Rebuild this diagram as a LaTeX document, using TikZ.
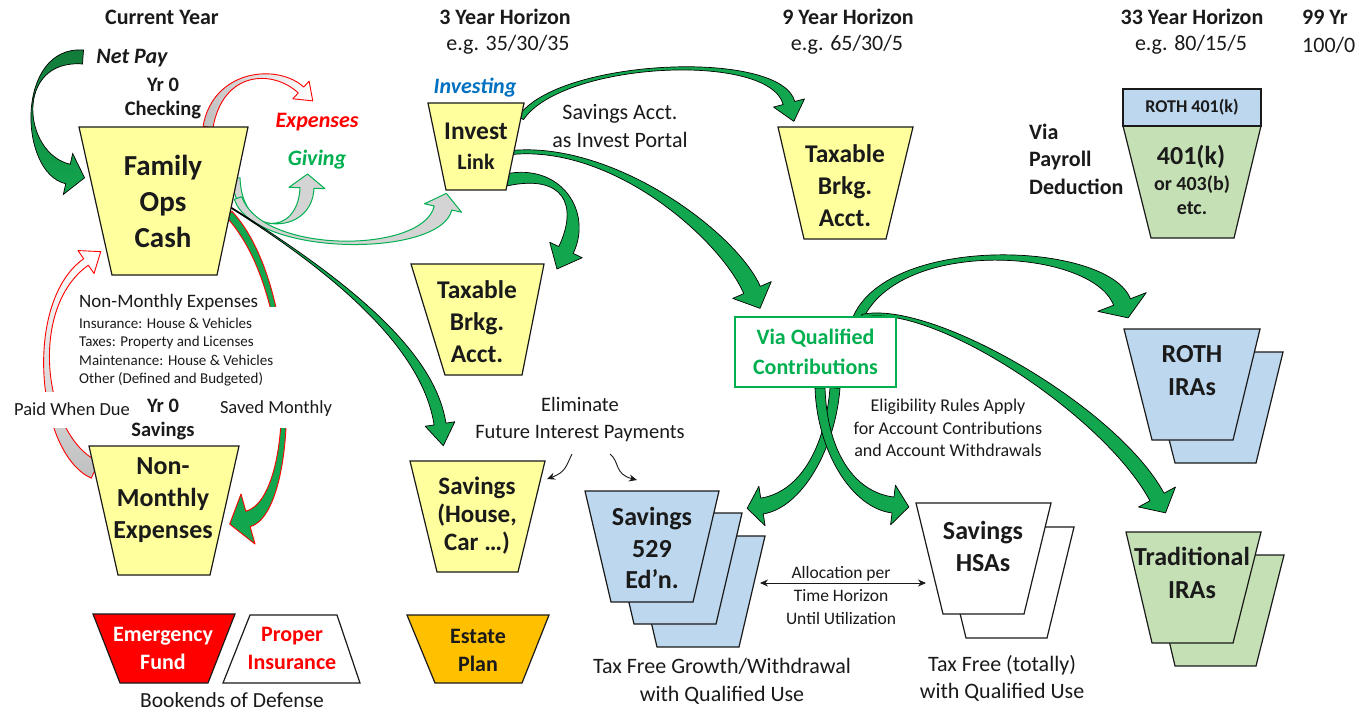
\documentclass[tikz,border=0pt]{standalone}
\usepackage{fontspec}
\setmainfont{Carlito}
\usetikzlibrary{calc,arrows.meta}

\definecolor{yel}{HTML}{FFFF9E}
\definecolor{lblue}{HTML}{BDD7EE}
\definecolor{lgreen}{HTML}{C5E0B4}
\definecolor{orng}{HTML}{FFC000}
\definecolor{agreen}{HTML}{12A64E}
\definecolor{dgreen}{HTML}{137A3A}
\definecolor{tgreen}{HTML}{00B050}
\definecolor{tblue}{HTML}{0070C0}
\definecolor{tred}{HTML}{FF0000}
\definecolor{ink}{HTML}{1A1A1A}

% font size / baseline skip in pt
\newcommand\fz[2]{\fontsize{#1pt}{#2pt}\selectfont}

% bucket: top-left x, top-right x, top y, bottom-left x, bottom-right x, bottom y, style
\newcommand\bucketshape[7]{%
  \path[bucket,#7] (#1,#3) -- (#2,#3) -- (#5,#6) -- (#4,#6) -- cycle;}

% tapered curved block arrow along a Bezier centre line
% #1 style, #2 start, #3 control 1, #4 control 2, #5 head base,
% #6 half width at start, #7 half width at head, #8 head half width, #9 head length
\newcommand\tarrow[9]{%
  \coordinate (tS) at (#2); \coordinate (tA) at (#3);
  \coordinate (tB) at (#4); \coordinate (tE) at (#5);
  \coordinate (tSL) at ($(tS)!#6pt!90:(tA)$);
  \coordinate (tSR) at ($(tS)!#6pt!-90:(tA)$);
  \coordinate (tAL) at ($(tA)+(tSL)-(tS)$);
  \coordinate (tAR) at ($(tA)+(tSR)-(tS)$);
  \coordinate (tEL) at ($(tE)!#7pt!-90:(tB)$);
  \coordinate (tER) at ($(tE)!#7pt!90:(tB)$);
  \coordinate (tBL) at ($(tB)+(tEL)-(tE)$);
  \coordinate (tBR) at ($(tB)+(tER)-(tE)$);
  \coordinate (tHL) at ($(tE)!#8pt!-90:(tB)$);
  \coordinate (tHR) at ($(tE)!#8pt!90:(tB)$);
  \coordinate (tT) at ($(tE)!-#9pt!(tB)$);
  \path[#1] (tSL) .. controls (tAL) and (tBL) .. (tEL) -- (tHL) -- (tT)
    -- (tHR) -- (tER) .. controls (tBR) and (tAR) .. (tSR) -- cycle;}

\tikzset{
  bucket/.style={draw=ink, line width=1.2pt, line join=miter},
  lbl/.style={inner sep=0pt, align=center, text=ink},
  greenarrow/.style={draw=black, line width=0.7pt, fill=agreen, line join=round},
  grayarrow/.style={draw=tgreen, line width=1pt, fill=black!17, line join=round},
  redarrow/.style={draw=tred, line width=0.9pt, line join=round},
  thin/.style={draw=ink, line width=0.9pt, -{Stealth[length=8pt,width=7pt]}},
}

\begin{document}
\begin{tikzpicture}[x=1pt,y=-1pt]
\useasboundingbox (0,0) rectangle (1357,713);
\fill[white] (0,0) rectangle (1357,713);

% ---------- block arrows ----------
% net pay into checking
\tarrow{draw=black, line width=0.7pt, top color=dgreen, bottom color=agreen}{83,57}{15,52}{20,163}{68,174}{7}{10}{21}{17}
% expenses and giving out of checking
\tarrow{redarrow, left color=black!25, right color=white}{208,127}{218,70}{275,66}{301,90}{5}{4}{12}{16}
\tarrow{grayarrow}{236,178}{238,236}{305,238}{307,188}{4}{7}{18}{14}
% checking to invest link
\tarrow{grayarrow}{238,198}{258,256}{432,256}{443,208}{4}{9}{19}{15}
% checking to house/car savings
\tarrow{greenarrow}{230,207}{330,270}{428,345}{440,424}{0.5}{6}{15}{22}
% saved monthly / paid when due loop
\tarrow{redarrow, fill=agreen}{229,214}{300,290}{298,505}{248,519}{4}{8}{26}{19}
\tarrow{redarrow, bottom color=black!25, top color=white}{95,470}{40,445}{25,305}{86,262}{9}{4}{14}{18}
% invest link outflows
\tarrow{greenarrow}{506,180}{562,168}{586,208}{566,250}{6}{8}{18}{21}
\tarrow{greenarrow}{521,118}{560,60}{775,50}{789,103}{3}{6}{16}{19}
\tarrow{greenarrow}{507,153}{610,140}{728,235}{752,290}{2}{9}{21}{20}
% qualified contributions outflows
\tarrow{greenarrow}{858,318}{895,235}{1100,245}{1122,302}{5}{9}{26}{17}
\tarrow{greenarrow}{862,316}{930,300}{1110,410}{1157,497}{1.5}{8}{21}{18}
\tarrow{greenarrow}{835,388}{830,450}{800,500}{762,506}{5}{8}{20}{15}
\tarrow{greenarrow}{820,388}{822,450}{852,500}{893,505}{5}{8}{20}{16}

% text panels sit on a white ground over the loop arrows
\fill[white] (70,307) rectangle (293,396);
\fill[white] (8,392) rectangle (300,428);

% ---------- buckets ----------
\bucketshape{79}{248}{127}{112}{217}{275}{fill=yel}
\bucketshape{89}{239}{446}{118}{210}{575}{fill=yel}
\bucketshape{93}{235}{614}{120}{208}{683}{fill=tred}
\bucketshape{250}{337}{615}{223}{360}{683}{fill=white}
\bucketshape{428}{524}{103}{446}{506}{190}{fill=yel}
\bucketshape{411}{544}{264}{445}{522}{375}{fill=yel}
\bucketshape{410}{545}{461}{437}{518}{572}{fill=yel}
\bucketshape{407}{549}{615}{435}{522}{683}{fill=orng}
\bucketshape{778}{913}{127}{804}{886}{239}{fill=yel}
% 529 stack
\begin{scope}[shift={(46,45)}]\bucketshape{585}{719}{491}{611}{693}{602}{fill=lblue}\end{scope}
\begin{scope}[shift={(23,22)}]\bucketshape{585}{719}{491}{611}{693}{602}{fill=lblue}\end{scope}
\bucketshape{585}{719}{491}{611}{693}{602}{fill=lblue}
% HSA stack
\begin{scope}[shift={(23,24)}]\bucketshape{916}{1051}{503}{943}{1024}{614}{fill=white}\end{scope}
\bucketshape{916}{1051}{503}{943}{1024}{614}{fill=white}
% 401(k)
\bucketshape{1123}{1261}{126}{1151}{1234}{238}{fill=lgreen}
\path[bucket, fill=lblue] (1123,89) rectangle (1261,126);
% ROTH IRAs
\begin{scope}[shift={(23,23)}]\bucketshape{1124}{1260}{329}{1152}{1233}{440}{fill=lblue}\end{scope}
\bucketshape{1124}{1260}{329}{1152}{1233}{440}{fill=lblue}
% Traditional IRAs
\begin{scope}[shift={(23,23)}]\bucketshape{1126}{1261}{532}{1152}{1233}{643}{fill=lgreen}\end{scope}
\bucketshape{1126}{1261}{532}{1152}{1233}{643}{fill=lgreen}

% qualified contributions box
\node[draw=tgreen, line width=1.2pt, fill=white, minimum width=161pt, minimum height=70pt,
      inner sep=0pt, text=tgreen, align=center, font=\fz{22}{30}\bfseries] (viaq) at (815.5,352)
      {Via Qualified\\Contributions};

% ---------- headings ----------
\node[lbl, font=\fz{22}{26}\bfseries] (cy) at (162,17) {Current Year};
\node[lbl, font=\fz{22}{26}\bfseries] (h3) at (505,17) {3 Year Horizon};
\node[lbl, font=\fz{22}{26}] (e3) at (508,45) {e.g. 35/30/35};
\node[lbl, font=\fz{22}{26}\bfseries] (h9) at (848,17) {9 Year Horizon};
\node[lbl, font=\fz{22}{26}] (e9) at (847,45) {e.g. 65/30/5};
\node[lbl, font=\fz{22}{26}\bfseries] (h33) at (1192,17) {33 Year Horizon};
\node[lbl, font=\fz{22}{26}] (e33) at (1191,45) {e.g. 80/15/5};
\node[lbl, anchor=west, font=\fz{22}{26}\bfseries] (h99) at (1302,17) {99 Yr};
\node[lbl, anchor=west, font=\fz{22}{26}] (e99) at (1302,45) {100/0};

% ---------- current year column ----------
\node[lbl, font=\fz{22}{26}\bfseries\itshape] (netpay) at (132,58) {Net Pay};
\node[lbl, font=\fz{20.5}{24}\bfseries] (yr0c) at (163,99) {Yr 0\\Checking};
\node[lbl, text=tred, font=\fz{22}{26}\bfseries\itshape] (expn) at (317,122) {Expenses};
\node[lbl, text=tgreen, font=\fz{22}{26}\bfseries\itshape] (givn) at (317,160) {Giving};
\node[lbl, font=\fz{29}{36}\bfseries] (fam) at (163,201) {Family\\Ops\\Cash};
\node[lbl, anchor=west, font=\fz{19}{22}] (nmhead) at (79,302) {Non-Monthly Expenses};
\node[lbl, anchor=west, align=left, font=\fz{15}{18.3}] (nmlist) at (79,352)
  {Insurance: House \& Vehicles\\Taxes: Property and Licenses\\Maintenance: House \& Vehicles\\Other (Defined and Budgeted)};
\node[lbl, font=\fz{18.5}{22}] (paid) at (72,409) {Paid When Due};
\node[lbl, font=\fz{20.5}{24}\bfseries] (yr0s) at (163,420) {Yr 0\\Savings};
\node[lbl, font=\fz{18.5}{22}] (saved) at (276,409) {Saved Monthly};
\node[lbl, font=\fz{26}{32}\bfseries] (nme) at (163,500) {Non-\\Monthly\\Expenses};
\node[lbl, text=white, font=\fz{22}{28}\bfseries] (emerg) at (163,648) {Emergency\\Fund};
\node[lbl, text=tred, font=\fz{22}{28}\bfseries] (proper) at (292,648) {Proper\\Insurance};
\node[lbl, font=\fz{21.5}{26}] (bookends) at (232,700) {Bookends of Defense};

% ---------- 3 year column ----------
\node[lbl, text=tblue, font=\fz{22}{26}\bfseries\itshape] (investing) at (475,88) {Investing};
\node[lbl, font=\fz{25.5}{30}\bfseries] (invest) at (476,131) {Invest};
\node[lbl, font=\fz{22}{26}\bfseries] (link) at (476,162) {Link};
\node[lbl, font=\fz{22}{28}] (portal) at (620,126) {Savings Acct.\\as Invest Portal};
\node[lbl, font=\fz{25.5}{32}\bfseries] (taxl) at (477,322) {Taxable\\Brkg.\\Acct.};
\node[lbl, font=\fz{20.5}{27}] (elim) at (580,420) {Eliminate\\Future Interest Payments};
\node[lbl, font=\fz{25}{28}\bfseries] (house) at (477,516) {Savings\\(House,\\Car …)};
\node[lbl, font=\fz{22}{28}\bfseries] (estate) at (478,650) {Estate\\Plan};
\node[lbl, font=\fz{26}{31.5}\bfseries] (s529) at (652,548) {Savings\\529\\Ed’n.};
\node[lbl, font=\fz{22}{28}] (tf529) at (722,681) {Tax Free Growth/Withdrawal\\with Qualified Use};

% ---------- 9 year column ----------
\node[lbl, font=\fz{25.5}{32}\bfseries] (taxr) at (845,186) {Taxable\\Brkg.\\Acct.};
\node[lbl, font=\fz{17.5}{23}] (alloc) at (841,595) {Allocation per\\Time Horizon\\Until Utilization};
\node[lbl, font=\fz{18}{22.5}] (elig) at (948,428) {Eligibility Rules Apply\\for Account Contributions\\and Account Withdrawals};
\node[lbl, font=\fz{26}{32}\bfseries] (hsa) at (983,546) {Savings\\HSAs};
\node[lbl, font=\fz{22}{27}] (tfhsa) at (1002,678) {Tax Free (totally)\\with Qualified Use};

% ---------- 33 year column ----------
\node[lbl, anchor=west, align=left, font=\fz{22}{27.5}\bfseries] (payroll) at (1029,159) {Via\\Payroll\\Deduction};
\node[lbl, font=\fz{18}{22}\bfseries] (roth401) at (1192,107) {ROTH 401(k)};
\node[lbl, font=\fz{26}{30}\bfseries] (k401) at (1191,157) {401(k)};
\node[lbl, font=\fz{20}{24}\bfseries] (or403) at (1192,195) {or 403(b)\\etc.};
\node[lbl, font=\fz{26}{33}\bfseries] (roth) at (1192,371) {ROTH\\IRAs};
\node[lbl, font=\fz{26}{33}\bfseries] (trad) at (1192,573) {Traditional\\IRAs};

% ---------- thin connectors ----------
\coordinate (elimL) at (572,454);
\coordinate (elimR) at (610,454);
\draw[thin] (elimL) .. controls (566,466) and (566,472) .. (547,479);
\draw[thin] (elimR) .. controls (620,462) and (614,474) .. (637,480);
\coordinate (allocL) at (760,583);
\coordinate (allocR) at (926,583);
\draw[thin, {Stealth[length=8pt,width=7pt]}-{Stealth[length=8pt,width=7pt]}] (allocL) -- (allocR);
\end{tikzpicture}
\end{document}
